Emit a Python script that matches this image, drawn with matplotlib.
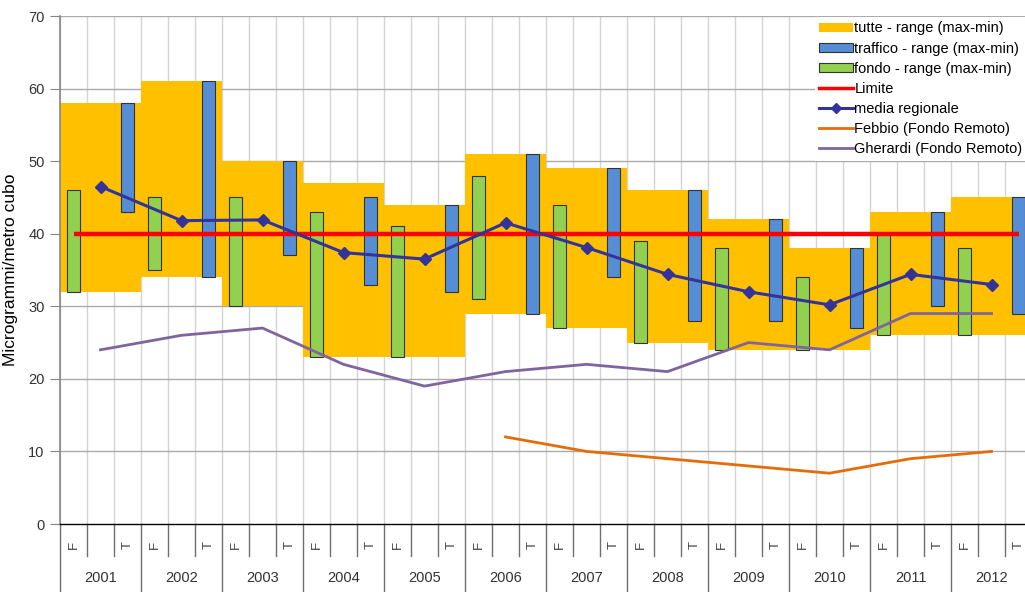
import matplotlib
matplotlib.use("Agg")
import matplotlib.pyplot as plt
from matplotlib.patches import Patch
from matplotlib.lines import Line2D

plt.rcParams['font.family'] = ['Liberation Sans', 'DejaVu Sans']

years = ['2001', '2002', '2003', '2004', '2005', '2006',
         '2007', '2008', '2009', '2010', '2011', '2012']
sub_labels = ['F', '', 'T']

tutte_min = [32, 34, 30, 23, 23, 29, 27, 25, 24, 24, 26, 26]
tutte_max = [58, 61, 50, 47, 44, 51, 49, 46, 42, 38, 43, 45]
traffico_min = [43, 34, 37, 33, 32, 29, 34, 28, 28, 27, 30, 29]
traffico_max = [58, 61, 50, 45, 44, 51, 49, 46, 42, 38, 43, 45]
fondo_min = [32, 35, 30, 23, 23, 31, 27, 25, 24, 24, 26, 26]
fondo_max = [46, 45, 45, 43, 41, 48, 44, 39, 38, 34, 40, 38]
limite = 40
media = [46.5, 41.8, 41.9, 37.4, 36.5, 41.5, 38.1, 34.4, 32.0, 30.2, 34.4, 33.0]
febbio_years = ['2006', '2007', '2008', '2009', '2010', '2011', '2012']
febbio = [12, 10, 9, 8, 7, 9, 10]
gherardi = [24, 26, 27, 22, 19, 21, 22, 21, 25, 24, 29, 29]

c_tutte = '#FFC000'
c_traffico = '#558ED5'
c_fondo = '#92D050'
c_limite = '#FF0000'
c_media = '#333399'
c_febbio = '#E46C0A'
c_gherardi = '#7F649F'

nsub = len(sub_labels)
ncat = nsub * len(years)
cats = list(range(ncat))
xF = [nsub * i for i in range(len(years))]
xM = [nsub * i + 1 for i in range(len(years))]
xT = [nsub * i + 2 for i in range(len(years))]
xFeb = [xM[years.index(y)] for y in febbio_years]

fig = plt.figure(figsize=(10.25, 5.92), dpi=100)
ax = fig.add_axes([60 / 1025, 68 / 592, 972 / 1025, 508 / 592])

ax.set_xlim(-0.5, ncat - 0.5)
ax.set_ylim(0, 70)
ax.set_yticks(range(0, 71, 10))

# gridlines
for k in range(ncat + 1):
    ax.axvline(k - 0.5, color='#D4D4D4', lw=1.0, zorder=0)
for v in range(10, 71, 10):
    ax.axhline(v, color='#ABABAB', lw=1.0, zorder=0)

# tutte band
ax.bar(xM, [a - b for a, b in zip(tutte_max, tutte_min)], bottom=tutte_min,
       width=nsub, color=c_tutte, edgecolor='none', zorder=1)
# fondo / traffico bars
ax.bar(xF, [a - b for a, b in zip(fondo_max, fondo_min)], bottom=fondo_min,
       width=0.5, color=c_fondo, edgecolor='#333333', lw=0.8, zorder=2)
ax.bar(xT, [a - b for a, b in zip(traffico_max, traffico_min)], bottom=traffico_min,
       width=0.5, color=c_traffico, edgecolor='#333333', lw=0.8, zorder=2)

ax.plot([cats[0], cats[-1]], [limite, limite], color=c_limite, lw=3.2, zorder=3,
        solid_capstyle='butt')
ax.plot(xM, media, color=c_media, lw=2.2, marker='D', markersize=6, zorder=4)
ax.plot(xFeb, febbio, color=c_febbio, lw=2.0, zorder=4)
ax.plot(xM, gherardi, color=c_gherardi, lw=2.0, zorder=4)

# spines / ticks
for s in ['top', 'right']:
    ax.spines[s].set_visible(False)
ax.spines['left'].set_color('#868686')
ax.spines['left'].set_linewidth(1.2)
ax.spines['bottom'].set_color('#000000')
ax.spines['bottom'].set_linewidth(1.0)
ax.spines['bottom'].set_zorder(5)
ax.tick_params(axis='y', direction='out', length=7, color='#868686',
               labelsize=10.5, labelcolor='#333333', pad=4)
ax.set_xticks([])
ax.set_ylabel('Microgrammi/metro cubo', fontsize=12.5)
ax.yaxis.set_label_coords(-42 / 972, 0.5)

# category axis labels
xtr = ax.get_xaxis_transform()
for i, y in enumerate(years):
    for j, lab in enumerate(sub_labels):
        if lab:
            ax.text(nsub * i + j, -0.042, lab, transform=xtr, rotation=90,
                    ha='center', va='center', fontsize=9.5, color='#404040')
    ax.text(nsub * i + 1, -0.107, y, transform=xtr, ha='center', va='center',
            fontsize=10.5, color='#333333')
for k in range(ncat + 1):
    bottom = -0.135 if k % nsub == 0 else -0.063
    ax.plot([k - 0.5, k - 0.5], [0, bottom], transform=xtr, clip_on=False,
            color='#707070', lw=1.0)

handles = [
    Patch(facecolor=c_tutte, edgecolor='none'),
    Patch(facecolor=c_traffico, edgecolor='#333333', lw=0.8),
    Patch(facecolor=c_fondo, edgecolor='#333333', lw=0.8),
    Line2D([], [], color=c_limite, lw=2.5),
    Line2D([], [], color=c_media, lw=2.2, marker='D', markersize=5),
    Line2D([], [], color=c_febbio, lw=2.0),
    Line2D([], [], color=c_gherardi, lw=2.0),
]
labels = ['tutte - range (max-min)', 'traffico - range (max-min)',
          'fondo - range (max-min)', 'Limite', 'media regionale',
          'Febbio (Fondo Remoto)', 'Gherardi (Fondo Remoto)']
leg = fig.legend(handles, labels, loc='upper left',
                 bbox_to_anchor=(815 / 1025, 1 - 17 / 592),
                 bbox_transform=fig.transFigure,
                 fontsize=10.5, frameon=True, facecolor='white', edgecolor='none',
                 framealpha=1, fancybox=False, borderpad=0.3,
                 handlelength=2.3, handleheight=0.55, handletextpad=0.1,
                 labelspacing=0.42, borderaxespad=0)
leg.set_zorder(10)

fig.savefig('out.png', dpi=100)
